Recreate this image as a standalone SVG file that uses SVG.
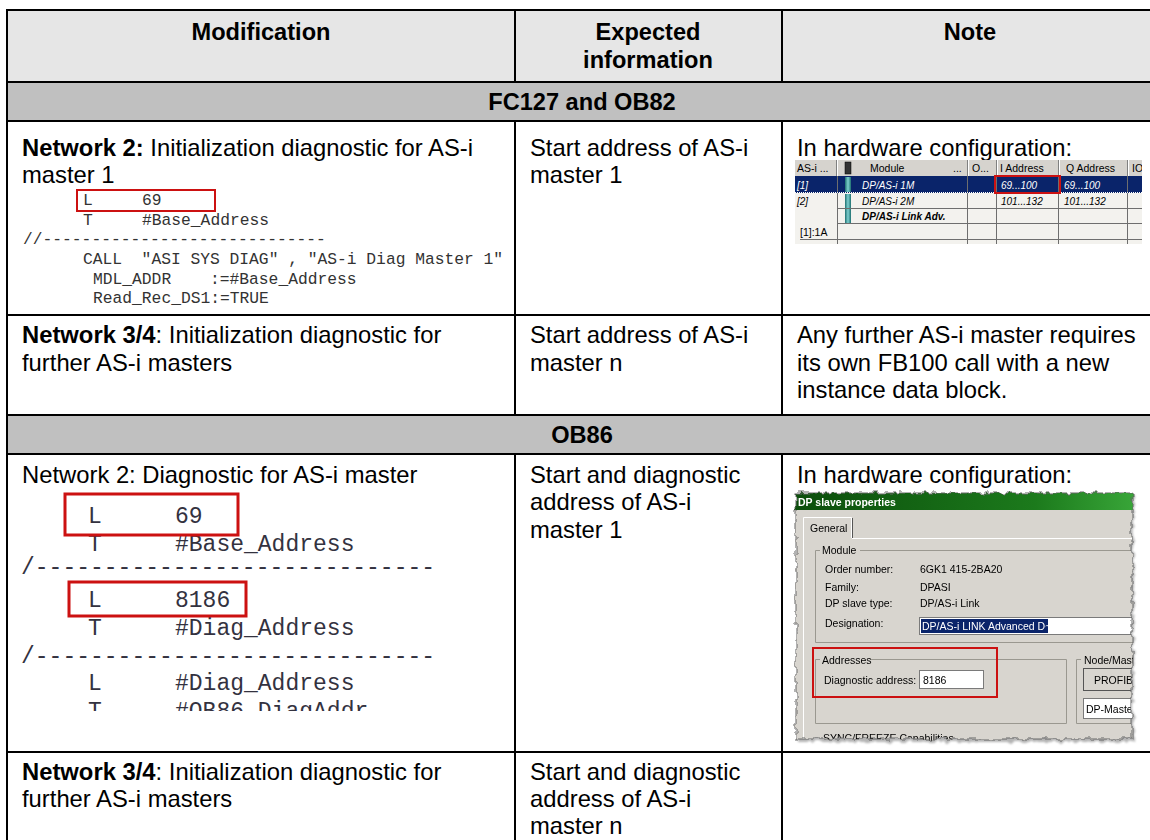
<svg xmlns="http://www.w3.org/2000/svg" width="1150" height="840" viewBox="0 0 1150 840">
<style>
  .t{font-family:"Liberation Sans",Arial,sans-serif;font-size:23.8px;fill:#000}
  .b{font-weight:bold}
  .h{font-family:"Liberation Sans",Arial,sans-serif;font-size:23.6px;font-weight:bold;fill:#000;text-anchor:middle}
  .grid line{stroke:#000;stroke-width:2}
  .c1{font-family:"Liberation Mono","Courier New",monospace;font-size:16.3px;fill:#333}
  .c2{font-family:"Liberation Mono","Courier New",monospace;font-size:23px;fill:#33323f}
  .red{fill:none;stroke:#cc1111}
  .s{font-family:"Liberation Sans",Arial,sans-serif;font-size:10.5px;fill:#000}
  .si{font-family:"Liberation Sans",Arial,sans-serif;font-size:10px;font-style:italic;fill:#000}
  .w{fill:#fff}
  .gl{stroke:#6e6e6e;stroke-width:1}
  .frame{fill:none;stroke:#9a9890;stroke-width:1}
  .hi{fill:none;stroke:#fff;stroke-width:1}
</style>
<defs>
  <linearGradient id="title" x1="0" y1="0" x2="1" y2="0">
    <stop offset="0" stop-color="#0b4d0b"/>
    <stop offset="0.7" stop-color="#1c7a1c"/>
    <stop offset="1" stop-color="#3aa83a"/>
  </linearGradient>
  <linearGradient id="icon" x1="0" y1="0" x2="1" y2="0">
    <stop offset="0" stop-color="#1d6f6f"/>
    <stop offset="0.5" stop-color="#7fd0d0"/>
    <stop offset="1" stop-color="#1d6f6f"/>
  </linearGradient>
  <filter id="torn" x="-5%" y="-5%" width="110%" height="110%">
    <feTurbulence type="fractalNoise" baseFrequency="0.14" numOctaves="2" seed="4" result="n"/>
    <feDisplacementMap in="SourceGraphic" in2="n" scale="7" xChannelSelector="R" yChannelSelector="G"/>
  </filter>
  <filter id="tornShadow" x="-5%" y="-5%" width="110%" height="110%">
    <feTurbulence type="fractalNoise" baseFrequency="0.14" numOctaves="2" seed="4" result="n"/>
    <feDisplacementMap in="SourceGraphic" in2="n" scale="7" xChannelSelector="R" yChannelSelector="G" result="d"/>
    <feGaussianBlur in="d" stdDeviation="1.2"/>
  </filter>
  <mask id="tornMask">
    <rect x="796" y="493" width="336" height="246" fill="#fff" filter="url(#torn)"/>
  </mask>
  <clipPath id="hwClip"><rect x="795" y="160" width="347" height="84"/></clipPath>
  <clipPath id="code2Clip"><rect x="0" y="455" width="514" height="256"/></clipPath>
</defs>

<!-- cell backgrounds -->
<rect x="7" y="10" width="1151" height="72" fill="#e6e6e6"/>
<rect x="7" y="82" width="1151" height="39" fill="#c0c0c0"/>
<rect x="7" y="415" width="1151" height="39" fill="#c0c0c0"/>

<!-- table rules -->
<g id="grid" class="grid">
  <line x1="6" y1="10" x2="1160" y2="10"/>
  <line x1="6" y1="82" x2="1160" y2="82"/>
  <line x1="6" y1="121" x2="1160" y2="121"/>
  <line x1="6" y1="315" x2="1160" y2="315"/>
  <line x1="6" y1="415" x2="1160" y2="415"/>
  <line x1="6" y1="454" x2="1160" y2="454"/>
  <line x1="6" y1="752" x2="1160" y2="752"/>
  <line x1="7" y1="9" x2="7" y2="842"/>
  <line x1="515" y1="9" x2="515" y2="83"/>
  <line x1="515" y1="120" x2="515" y2="416"/>
  <line x1="515" y1="453" x2="515" y2="842"/>
  <line x1="782" y1="9" x2="782" y2="83"/>
  <line x1="782" y1="120" x2="782" y2="416"/>
  <line x1="782" y1="453" x2="782" y2="842"/>
</g>

<!-- header -->
<g id="header">
  <text class="h" x="261" y="40">Modification</text>
  <text class="h" x="648" y="40">Expected</text>
  <text class="h" x="648" y="68">information</text>
  <text class="h" x="970" y="40">Note</text>
</g>

<g id="section-fc127">
  <text class="h" x="582" y="110">FC127 and OB82</text>
</g>

<!-- row 1 -->
<g id="r1-modification">
  <text class="t" x="22" y="156"><tspan class="b">Network 2:</tspan> Initialization diagnostic for AS-i</text>
  <text class="t" x="22" y="183">master 1</text>
  <g class="c1">
    <text x="83" y="205">L</text><text x="142" y="205">69</text>
    <text x="83" y="225">T</text><text x="142" y="225">#Base_Address</text>
    <text x="23" y="244">//-----------------------------</text>
    <text x="83" y="264" xml:space="preserve">CALL  "ASI SYS DIAG" , "AS-i Diag Master 1"</text>
    <text x="93" y="284">MDL_ADDR</text><text x="210" y="284">:=#Base_Address</text>
    <text x="93" y="303">Read_Rec_DS1:=TRUE</text>
  </g>
  <rect class="red" x="77" y="190" width="138" height="21" stroke-width="2"/>
</g>
<g id="r1-expected">
  <text class="t" x="530" y="156">Start address of AS-i</text>
  <text class="t" x="530" y="183">master 1</text>
</g>
<g id="r1-note">
  <text class="t" x="797" y="156">In hardware configuration:</text>
  <g id="hw-table" clip-path="url(#hwClip)">
    <rect x="795" y="160" width="347" height="84" fill="#f3f2ee"/>
    <rect x="795" y="160" width="347" height="16" fill="#d6d3ce"/>
    <rect x="795" y="176" width="347" height="17" fill="#0a246a"/>
    <!-- header separators -->
    <g stroke-width="1">
      <line x1="837.5" y1="160" x2="837.5" y2="176" stroke="#fff"/><line x1="836.5" y1="160" x2="836.5" y2="176" stroke="#808080"/>
      <line x1="968.5" y1="160" x2="968.5" y2="176" stroke="#fff"/><line x1="967.5" y1="160" x2="967.5" y2="176" stroke="#808080"/>
      <line x1="997.5" y1="160" x2="997.5" y2="176" stroke="#fff"/><line x1="996.5" y1="160" x2="996.5" y2="176" stroke="#808080"/>
      <line x1="1059.5" y1="160" x2="1059.5" y2="176" stroke="#fff"/><line x1="1058.5" y1="160" x2="1058.5" y2="176" stroke="#808080"/>
      <line x1="1128.5" y1="160" x2="1128.5" y2="176" stroke="#fff"/><line x1="1127.5" y1="160" x2="1127.5" y2="176" stroke="#808080"/>
    </g>
    <!-- body grid -->
    <g class="gl">
      <line x1="837.5" y1="176" x2="837.5" y2="244"/>
      <line x1="967.5" y1="176" x2="967.5" y2="244"/>
      <line x1="996.5" y1="176" x2="996.5" y2="244"/>
      <line x1="1058.5" y1="176" x2="1058.5" y2="244"/>
      <line x1="1127.5" y1="176" x2="1127.5" y2="244"/>
      <line x1="837" y1="208.5" x2="1142" y2="208.5"/>
      <line x1="837" y1="223.5" x2="1142" y2="223.5"/>
      <line x1="800" y1="239.5" x2="1142" y2="239.5"/>
    </g>
    <line x1="795" y1="192.5" x2="1142" y2="192.5" stroke="#fff" stroke-width="1" stroke-dasharray="1 1"/>
    <!-- module icons -->
    <rect x="845" y="162" width="6" height="12" fill="#333" stroke="#000" stroke-width="0.5"/>
    <rect x="845" y="177" width="6" height="15" fill="url(#icon)"/>
    <rect x="845" y="194" width="6" height="14" fill="url(#icon)"/>
    <rect x="845" y="209" width="6" height="14" fill="url(#icon)"/>
    <text class="s" x="797" y="172">AS-i ...</text>
    <text class="s" x="870" y="172">Module</text>
    <text class="s" x="953" y="172">...</text>
    <text class="s" x="972" y="172">O...</text>
    <text class="s" x="1000" y="172">I Address</text>
    <text class="s" x="1066" y="172">Q Address</text>
    <text class="s" x="1132" y="172">IO</text>
    <text class="si w" x="797" y="189">[1]</text>
    <text class="si w" x="862" y="189">DP/AS-i 1M</text>
    <text class="si w" x="1001" y="189">69...100</text>
    <text class="si w" x="1064" y="189">69...100</text>
    <text class="si" x="797" y="205">[2]</text>
    <text class="si" x="862" y="205">DP/AS-i 2M</text>
    <text class="si" x="1001" y="205">101...132</text>
    <text class="si" x="1064" y="205">101...132</text>
    <text class="si b" x="862" y="220">DP/AS-i Link Adv.</text>
    <text class="s" x="800" y="236">[1]:1A</text>
    <text class="s" x="800" y="252">[1]:B</text>
    <rect class="red" x="995" y="176" width="65" height="17" stroke-width="2"/>
  </g>
</g>

<!-- row 2 -->
<g id="r2-modification">
  <text class="t" x="22" y="343"><tspan class="b">Network 3/4</tspan>: Initialization diagnostic for</text>
  <text class="t" x="22" y="371">further AS-i masters</text>
</g>
<g id="r2-expected">
  <text class="t" x="530" y="343">Start address of AS-i</text>
  <text class="t" x="530" y="371">master n</text>
</g>
<g id="r2-note">
  <text class="t" x="797" y="343">Any further AS-i master requires</text>
  <text class="t" x="797" y="371">its own FB100 call with a new</text>
  <text class="t" x="797" y="398">instance data block.</text>
</g>

<g id="section-ob86">
  <text class="h" x="582" y="443">OB86</text>
</g>

<!-- row 3 -->
<g id="r3-modification">
  <text class="t" x="22" y="483">Network 2: Diagnostic for AS-i master</text>
  <g class="c2" clip-path="url(#code2Clip)">
    <text x="88" y="523">L</text><text x="175" y="523">69</text>
    <text x="88" y="551">T</text><text x="175" y="551">#Base_Address</text>
    <text x="21" y="574">/-----------------------------</text>
    <text x="88" y="607">L</text><text x="175" y="607">8186</text>
    <text x="88" y="635">T</text><text x="175" y="635">#Diag_Address</text>
    <text x="21" y="663">/-----------------------------</text>
    <text x="88" y="690">L</text><text x="175" y="690">#Diag_Address</text>
    <text x="88" y="718">T</text><text x="175" y="718">#OB86_DiagAddr</text>
  </g>
  <rect class="red" x="65" y="494" width="173" height="41" stroke-width="3"/>
  <rect class="red" x="69" y="582" width="177" height="34" stroke-width="3"/>
</g>
<g id="r3-expected">
  <text class="t" x="530" y="483">Start and diagnostic</text>
  <text class="t" x="530" y="510">address of AS-i</text>
  <text class="t" x="530" y="538">master 1</text>
</g>
<g id="r3-note">
  <text class="t" x="797" y="483">In hardware configuration:</text>
  <!-- torn-off dialog -->
  <rect x="798" y="496" width="336" height="246" fill="#777" opacity="0.55" filter="url(#tornShadow)"/>
  <g id="dp-slave-dialog" mask="url(#tornMask)">
    <rect x="790" y="488" width="350" height="260" fill="#d8d5cf"/>
    <rect x="790" y="488" width="350" height="22" fill="url(#title)"/>
    <text class="s b w" x="798" y="506" font-size="11">DP slave properties</text>
    <!-- tab -->
    <path d="M803.5 538 V517.5 H851.5 V538" class="hi"/>
    <line x1="852.5" y1="518" x2="852.5" y2="538" stroke="#555"/>
    <line x1="852" y1="538.5" x2="1140" y2="538.5" stroke="#fff"/>
    <line x1="803.5" y1="538" x2="803.5" y2="745" stroke="#fff"/>
    <text class="s" x="810" y="532">General</text>
    <!-- Module group -->
    <path class="frame" d="M820 550.5 H815.5 V642.5 H1140 M860 550.5 H1140"/>
    <text class="s" x="822" y="554">Module</text>
    <text class="s" x="825" y="573">Order number:</text>
    <text class="s" x="920" y="573">6GK1 415-2BA20</text>
    <text class="s" x="825" y="591">Family:</text>
    <text class="s" x="920" y="591">DPASI</text>
    <text class="s" x="825" y="607">DP slave type:</text>
    <text class="s" x="920" y="607">DP/AS-i Link</text>
    <text class="s" x="825" y="627">Designation:</text>
    <rect x="919.5" y="617.5" width="221" height="17" fill="#fff" stroke="#7a7a7a"/>
    <rect x="921" y="619" width="127" height="14" fill="#0a246a"/>
    <text class="s w" x="922" y="630">DP/AS-i LINK Advanced D~</text>
    <!-- Addresses group -->
    <path class="frame" d="M820 659.5 H815.5 V723.5 H1066.5 V659.5 H870"/>
    <text class="s" x="822" y="664">Addresses</text>
    <text class="s" x="824" y="684">Diagnostic address:</text>
    <rect x="919.5" y="670.5" width="64" height="18" fill="#fff" stroke="#7a7a7a"/>
    <text class="s" x="923" y="684" fill="#333">8186</text>
    <!-- Node/Master group -->
    <path class="frame" d="M1081 659.5 H1076.5 V723.5 H1140"/>
    <text class="s" x="1084" y="664">Node/Mast</text>
    <rect x="1083.5" y="668.5" width="60" height="22" fill="#d8d5cf" stroke="#555"/>
    <text class="s" x="1094" y="684">PROFIB</text>
    <rect x="1083.5" y="698.5" width="60" height="20" fill="#fff" stroke="#7a7a7a"/>
    <text class="s" x="1086" y="713">DP-Maste</text>
    <text class="s" x="823" y="742">SYNC/FREEZE Capabilities</text>
    <rect class="red" x="813" y="648" width="184" height="49" stroke-width="2"/>
  </g>
  <rect x="796" y="493" width="336" height="246" fill="none" stroke="#666" stroke-width="1" filter="url(#torn)"/>
</g>

<!-- row 4 -->
<g id="r4-modification">
  <text class="t" x="22" y="780"><tspan class="b">Network 3/4</tspan>: Initialization diagnostic for</text>
  <text class="t" x="22" y="807">further AS-i masters</text>
</g>
<g id="r4-expected">
  <text class="t" x="530" y="780">Start and diagnostic</text>
  <text class="t" x="530" y="807">address of AS-i</text>
  <text class="t" x="530" y="834">master n</text>
</g>
</svg>
